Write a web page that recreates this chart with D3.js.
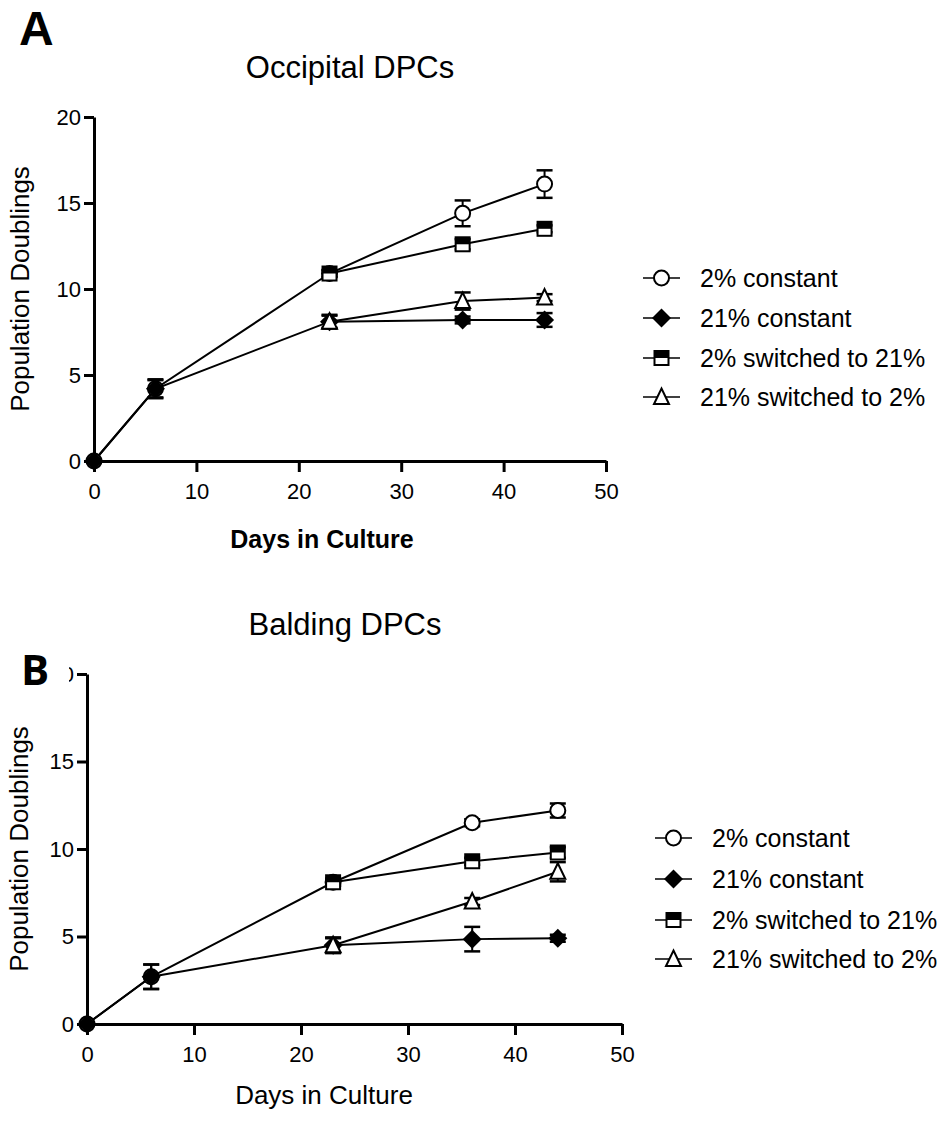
<!DOCTYPE html>
<html>
<head>
<meta charset="utf-8">
<script src="https://cdn.jsdelivr.net/npm/d3@7"></script>
<style>
  html, body { margin: 0; padding: 0; background: #fff; }
  svg { display: block; }
  text { font-family: "Liberation Sans", Arial, Helvetica, sans-serif; fill: #000; }
</style>
</head>
<body>
<script>
// Sampling days (x values) shared by both panels
const days = [0, 6, 23, 36, 44];
const seriesLabels = ["2% constant", "21% constant", "2% switched to 21%", "21% switched to 2%"];
const seriesSymbols = ["circle", "diamond", "halfSquare", "triangle"];
const xTicks = [0, 10, 20, 30, 40, 50];
const yTicks = [0, 5, 10, 15, 20];

// Occipital DPCs: mean population doublings and SEM (switched series begin at day 23)
const occ2Const     = [0, 4.2, 10.9, 14.4, 16.1];
const occ2ConstErr  = [0, 0.5, 0.2, 0.75, 0.8];
const occ21Const    = [0, 4.2, 8.1, 8.2, 8.2];
const occ21ConstErr = [0, 0.55, 0.35, 0.2, 0.4];
const occ2to21      = [null, null, 10.9, 12.6, 13.5];
const occ2to21Err   = [null, null, 0.2, 0.3, 0.2];
const occ21to2      = [null, null, 8.1, 9.3, 9.5];
const occ21to2Err   = [null, null, 0.4, 0.5, 0.2];

// Balding DPCs
const bal2Const     = [0, 2.7, 8.1, 11.5, 12.2];
const bal2ConstErr  = [0, 0.7, 0.2, 0.2, 0.4];
const bal21Const    = [0, 2.7, 4.5, 4.85, 4.9];
const bal21ConstErr = [0, 0.7, 0.4, 0.7, 0.2];
const bal2to21      = [null, null, 8.1, 9.3, 9.8];
const bal2to21Err   = [null, null, 0.2, 0.2, 0.3];
const bal21to2      = [null, null, 4.5, 7.0, 8.7];
const bal21to2Err   = [null, null, 0.45, 0.2, 0.55];

const W = 951, H = 1121;
const svg = d3.select("body").append("svg").attr("width", W).attr("height", H);
svg.append("rect").attr("width", W).attr("height", H).attr("fill", "#fff");

function drawSymbol(g, type, cx, cy) {
  const s = g.append("g").attr("transform", `translate(${cx},${cy})`);
  if (type === "circle") {
    s.append("circle").attr("r", 7.5).attr("fill", "#fff").attr("stroke", "#000").attr("stroke-width", 2);
  } else if (type === "diamond") {
    s.append("path").attr("d", "M0,-9.5L9.5,0L0,9.5L-9.5,0Z").attr("fill", "#000");
  } else if (type === "halfSquare") {
    s.append("rect").attr("x", -7).attr("y", -7).attr("width", 14).attr("height", 14)
      .attr("fill", "#fff").attr("stroke", "#000").attr("stroke-width", 2);
    s.append("rect").attr("x", -7).attr("y", -7).attr("width", 14).attr("height", 7).attr("fill", "#000");
  } else if (type === "triangle") {
    s.append("path").attr("d", "M0,-8.5L7.5,7L-7.5,7Z").attr("fill", "#fff")
      .attr("stroke", "#000").attr("stroke-width", 2).attr("stroke-linejoin", "miter");
  }
}

function drawPanel(opts) {
  const x = d3.scaleLinear().domain([0, 50]).range(opts.xRange);
  const y = d3.scaleLinear().domain([0, 20]).range(opts.yRange);
  const g = svg.append("g");

  // Title
  g.append("text").attr("x", opts.titleX).attr("y", opts.titleY)
    .attr("text-anchor", "middle").style("font-size", "31px").text(opts.title);

  // Axes
  const yAxis = d3.axisLeft(y).tickValues(yTicks).tickSize(10).tickPadding(3).tickSizeOuter(0);
  const xAxis = d3.axisBottom(x).tickValues(xTicks).tickSize(11).tickPadding(11).tickSizeOuter(0);
  const ya = g.append("g").attr("transform", `translate(${opts.xRange[0]},0)`).call(yAxis);
  const xa = g.append("g").attr("transform", `translate(0,${opts.yRange[0]})`).call(xAxis);
  [ya, xa].forEach(a => {
    a.select(".domain").attr("stroke", "#000").attr("stroke-width", 3);
    a.selectAll(".tick line").attr("stroke", "#000").attr("stroke-width", 3);
    a.selectAll(".tick text").attr("fill", "#000")
      .style("font-family", '"Liberation Sans", Arial, sans-serif').style("font-size", "22px");
  });

  // Axis titles
  g.append("text").attr("transform", `translate(${opts.yLabelX},${(opts.yRange[0] + opts.yRange[1]) / 2}) rotate(-90)`)
    .attr("text-anchor", "middle").style("font-size", "26px").text("Population Doublings");
  g.append("text").attr("x", opts.xLabelX).attr("y", opts.xLabelY)
    .attr("text-anchor", "middle").style("font-size", opts.xLabelBold ? "25px" : "26px")
    .style("font-weight", opts.xLabelBold ? "bold" : "normal").text("Days in Culture");

  // Connecting lines
  const line = d3.line().defined(d => d.v !== null).x(d => x(d.d)).y(d => y(d.v));
  opts.series.forEach(s => {
    const pts = days.map((d, i) => ({ d, v: s.values[i] }));
    g.append("path").attr("d", line(pts)).attr("fill", "none")
      .attr("stroke", "#000").attr("stroke-width", 2);
  });

  // Error bars and symbols, one series at a time
  opts.series.forEach((s, si) => {
    days.forEach((d, i) => {
      const v = s.values[i];
      if (v === null) return;
      const e = s.errors[i];
      if (e > 0) {
        const cx = x(d);
        g.append("line").attr("x1", cx).attr("x2", cx).attr("y1", y(v - e)).attr("y2", y(v + e))
          .attr("stroke", "#000").attr("stroke-width", 2);
        [v - e, v + e].forEach(t => {
          g.append("line").attr("x1", cx - 8).attr("x2", cx + 8).attr("y1", y(t)).attr("y2", y(t))
            .attr("stroke", "#000").attr("stroke-width", 2.5);
        });
      }
      drawSymbol(g, seriesSymbols[si], x(d), y(v));
    });
  });

  // Legend
  seriesLabels.forEach((lab, i) => {
    const ry = opts.legendY[i];
    const lg = g.append("g");
    lg.append("line").attr("x1", opts.legendX).attr("x2", opts.legendX + 37).attr("y1", ry).attr("y2", ry)
      .attr("stroke", "#000").attr("stroke-width", 1.5);
    drawSymbol(lg, seriesSymbols[i], opts.legendX + 18.5, ry);
    lg.append("text").attr("x", opts.legendX + 57).attr("y", ry + 8.5)
      .style("font-size", "25px").text(lab);
  });

  return g;
}

drawPanel({
  title: "Occipital DPCs", titleX: 350, titleY: 78,
  xRange: [94, 606], yRange: [461, 117],
  yLabelX: 29, xLabelX: 322, xLabelY: 548, xLabelBold: true,
  legendX: 643, legendY: [278, 318, 358, 397],
  series: [
    { values: occ2Const, errors: occ2ConstErr },
    { values: occ21Const, errors: occ21ConstErr },
    { values: occ2to21, errors: occ2to21Err },
    { values: occ21to2, errors: occ21to2Err }
  ]
});

drawPanel({
  title: "Balding DPCs", titleX: 345, titleY: 635,
  xRange: [87, 622], yRange: [1024, 674],
  yLabelX: 28, xLabelX: 324, xLabelY: 1104, xLabelBold: false,
  legendX: 655, legendY: [838, 879, 920, 959],
  series: [
    { values: bal2Const, errors: bal2ConstErr },
    { values: bal21Const, errors: bal21ConstErr },
    { values: bal2to21, errors: bal2to21Err },
    { values: bal21to2, errors: bal21to2Err }
  ]
});

// Panel letters
svg.append("text").attr("x", 19).attr("y", 45)
  .style("font-size", "48px").style("font-weight", "bold").text("A");
svg.append("rect").attr("x", 14).attr("y", 648).attr("width", 55).attr("height", 44).attr("fill", "#fff");
svg.append("text").attr("x", 21).attr("y", 685)
  .style("font-family", '"Open Sans", "Noto Sans", sans-serif')
  .style("font-size", "42px").style("font-weight", "bold").text("B");
</script>
</body>
</html>
